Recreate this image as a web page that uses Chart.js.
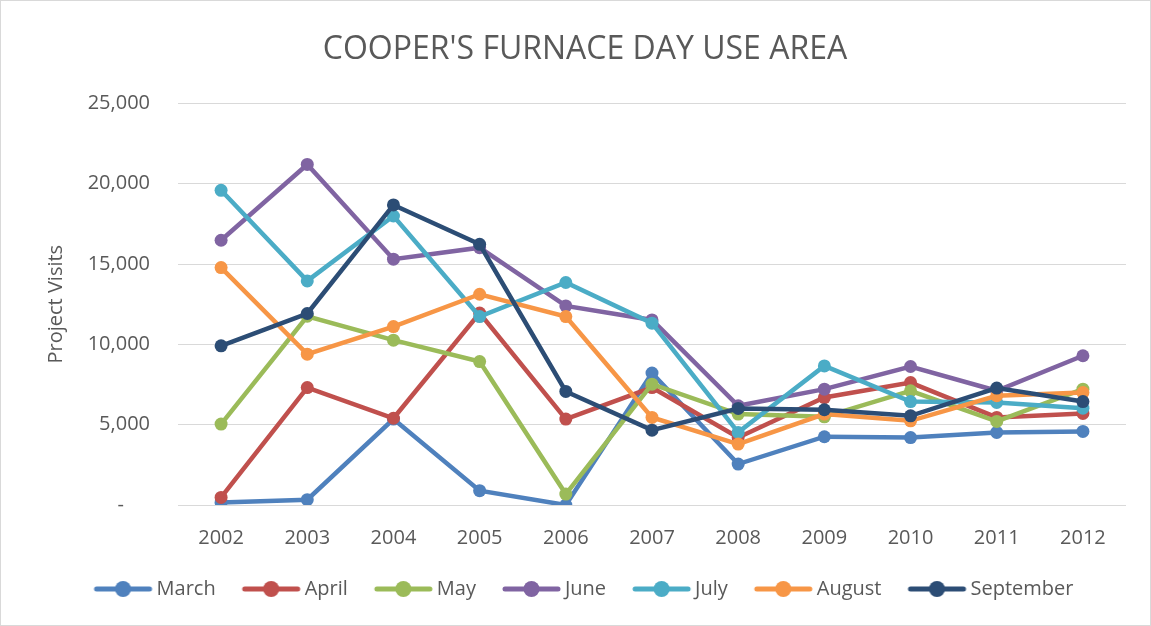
<!DOCTYPE html>
<html>
<head>
<meta charset="utf-8">
<script src="https://cdn.jsdelivr.net/npm/chart.js@4/dist/chart.umd.min.js"></script>
<style>
  body { margin: 0; background: #fff; }
  #wrap { width: 1151px; height: 626px; box-sizing: border-box; border: 1px solid #d9d9d9; }
</style>
</head>
<body>
<div id="wrap"><canvas id="visitsChart" width="1149" height="624"></canvas></div>
<script>
const years = ["2002", "2003", "2004", "2005", "2006", "2007", "2008", "2009", "2010", "2011", "2012"];

const march     = [160, 330, 5350, 890, 0, 8210, 2550, 4250, 4200, 4520, 4580];
const april     = [470, 7310, 5400, 11950, 5350, 7310, 4200, 6690, 7620, 5450, 5700];
const may       = [5040, 11750, 10260, 8930, 680, 7520, 5660, 5490, 7110, 5200, 7210];
const june      = [16480, 21200, 15300, 16020, 12390, 11520, 6180, 7210, 8620, 7110, 9290];
const july      = [19590, 13950, 17990, 11730, 13850, 11320, 4520, 8660, 6440, 6380, 6030];
const august    = [14780, 9390, 11110, 13120, 11730, 5450, 3790, 5660, 5240, 6800, 7000];
const september = [9910, 11920, 18680, 16230, 7070, 4660, 6010, 5930, 5550, 7280, 6440];

const textColor = "#595959";
const font = "'Open Sans', sans-serif";

// legend marker: short line with a dot in the middle, like Excel.
// the canvas is wider than the legend box so the line sits close to the text
function legendIcon(color) {
    const c = document.createElement("canvas");
    c.width = 70;
    c.height = 18;
    const g = c.getContext("2d");
    g.strokeStyle = color;
    g.lineWidth = 5;
    g.lineCap = "round";
    g.beginPath();
    g.moveTo(10, 9);
    g.lineTo(63, 9);
    g.stroke();
    g.fillStyle = color;
    g.beginPath();
    g.arc(36.5, 9, 8, 0, Math.PI * 2);
    g.fill();
    return c;
}

// later series are drawn on top, as in Excel
function series(label, values, color, layer) {
    return {
        label: label,
        data: values,
        order: layer,
        borderColor: color,
        backgroundColor: color,
        borderWidth: 4.5,
        pointRadius: 6.5,
        pointHoverRadius: 6.5,
        pointBorderWidth: 0,
        tension: 0,
        fill: false
    };
}

const ctx = document.getElementById("visitsChart").getContext("2d");

new Chart(ctx, {
    type: "line",
    data: {
        labels: years,
        datasets: [
            series("March", march, "#4F81BD", 6),
            series("April", april, "#C0504D", 5),
            series("May", may, "#9BBB59", 4),
            series("June", june, "#8064A2", 3),
            series("July", july, "#4BACC6", 2),
            series("August", august, "#F79646", 1),
            series("September", september, "#2C4D75", 0)
        ]
    },
    options: {
        responsive: false,
        animation: false,
        layout: { padding: { left: 43, right: 24, top: 24, bottom: 16 } },
        plugins: {
            title: {
                display: true,
                text: "COOPER'S FURNACE DAY USE AREA",
                color: textColor,
                font: { family: font, size: 32, weight: "normal" },
                padding: { top: 6, bottom: 34 }
            },
            legend: {
                position: "bottom",
                labels: {
                    color: textColor,
                    font: { family: font, size: 20 },
                    usePointStyle: true,
                    pointStyleWidth: 50,
                    boxHeight: 18,
                    padding: 29,
                    sort: function (a, b) { return a.datasetIndex - b.datasetIndex; },
                    generateLabels: function (chart) {
                        const items = Chart.defaults.plugins.legend.labels.generateLabels(chart);
                        items.forEach(function (it) {
                            it.pointStyle = legendIcon(chart.data.datasets[it.datasetIndex].borderColor);
                        });
                        return items;
                    }
                }
            },
            tooltip: { enabled: false }
        },
        scales: {
            x: {
                offset: true,
                grid: { display: false, drawTicks: false },
                border: { display: false },
                ticks: { color: textColor, font: { family: font, size: 20 }, padding: 21 },
                afterFit: function (scale) { scale.height -= 21; }
            },
            y: {
                min: 0,
                max: 25000,
                ticks: {
                    stepSize: 5000,
                    color: textColor,
                    font: { family: font, size: 20 },
                    padding: 28,
                    callback: function (v) { return v === 0 ? "-     " : v.toLocaleString("en-US"); }
                },
                grid: { color: "#d9d9d9", lineWidth: 1, drawTicks: false },
                border: { display: false },
                title: {
                    display: true,
                    text: "Project Visits",
                    color: textColor,
                    font: { family: font, size: 20 },
                    padding: { top: 0, bottom: 0 }
                },
                afterFit: function (scale) { scale.width = 134; }
            }
        }
    }
});
</script>
</body>
</html>
